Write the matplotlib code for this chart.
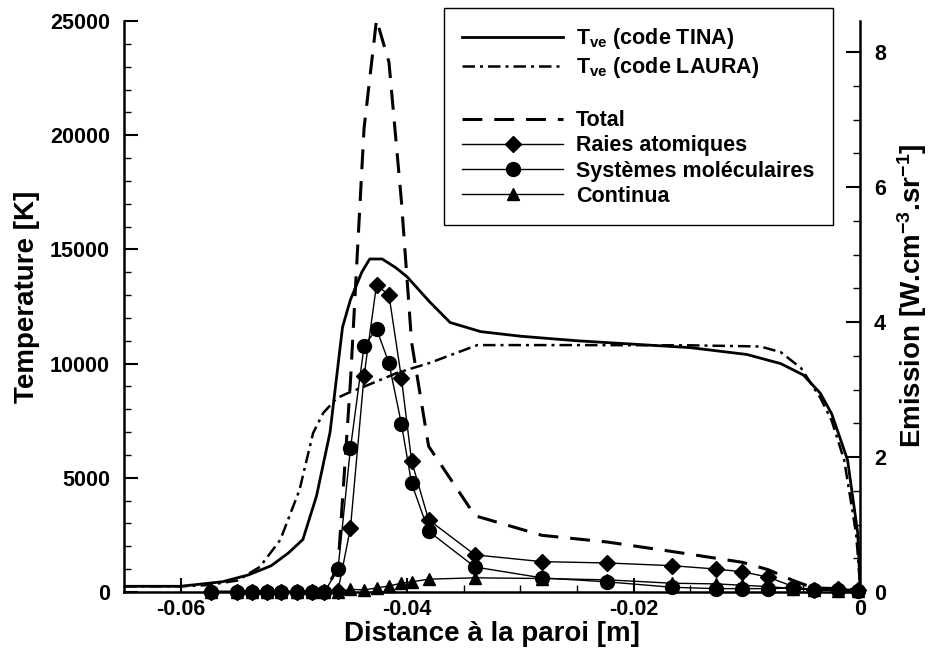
import numpy as np
import matplotlib.pyplot as plt
from matplotlib.lines import Line2D
from matplotlib.ticker import MultipleLocator, FuncFormatter

plt.rcParams['font.family'] = ['Liberation Sans', 'DejaVu Sans']
plt.rcParams['font.weight'] = 'bold'
plt.rcParams['axes.labelweight'] = 'bold'
plt.rcParams['mathtext.fontset'] = 'custom'
plt.rcParams['mathtext.rm'] = 'Liberation Sans:bold'
plt.rcParams['mathtext.it'] = 'Liberation Sans:bold'
plt.rcParams['mathtext.bf'] = 'Liberation Sans:bold'
plt.rcParams['axes.unicode_minus'] = False

# temperature profiles [K]
x_tina = [-0.065, -0.060, -0.0563, -0.0540, -0.0520, -0.0505, -0.0492, -0.0480,
          -0.0468, -0.0457, -0.0450, -0.0440, -0.0433, -0.0422, -0.0410, -0.0400,
          -0.0380, -0.0362, -0.0335, -0.030, -0.025, -0.020, -0.015, -0.010,
          -0.007, -0.005, -0.0035, -0.0025, -0.0017, -0.0011, -0.0002, 0.0]
t_tina = [250, 250, 450, 750, 1150, 1700, 2300, 4200,
          7000, 11600, 12800, 14000, 14580, 14580, 14200, 13800,
          12700, 11800, 11400, 11200, 11000, 10850, 10700, 10400,
          10000, 9500, 8700, 7800, 6650, 5780, 2580, 300]

x_laura = [-0.065, -0.060, -0.0577, -0.0550, -0.0530, -0.0512, -0.0495, -0.0483,
           -0.0474, -0.0462, -0.0450, -0.0439, -0.0409, -0.0380, -0.0338, -0.025,
           -0.015, -0.0088, -0.0070, -0.0052, -0.0035, -0.0025, -0.0014, -0.00035,
           -0.00018, 0.0]
t_laura = [250, 250, 300, 500, 1100, 2280, 4470, 6960,
           7840, 8490, 8760, 8970, 9590, 10030, 10810, 10810,
           10800, 10750, 10500, 9800, 8500, 7500, 5780, 2580,
           1530, 300]

# emission [W.cm-3.sr-1]
x_em = [-0.0573, -0.0550, -0.0537, -0.0524, -0.0511, -0.0497, -0.0484, -0.0473,
        -0.0461, -0.0450, -0.0438, -0.0427, -0.0416, -0.0405, -0.0396, -0.0381,
        -0.0340, -0.0281, -0.0223, -0.0166, -0.0127, -0.0104, -0.0081, -0.0059,
        -0.0041, -0.0019, -0.0002]
raies = [0, 0, 0, 0, 0, 0, 0, 0,
         0.02, 0.95, 3.20, 4.55, 4.40, 3.17, 1.94, 1.07,
         0.55, 0.45, 0.43, 0.39, 0.34, 0.30, 0.22, 0.08,
         0.03, 0.05, 0.03]
systemes = [0, 0, 0, 0, 0, 0, 0, 0,
            0.34, 2.13, 3.64, 3.90, 3.39, 2.49, 1.61, 0.90,
            0.37, 0.21, 0.15, 0.07, 0.05, 0.05, 0.05, 0.06,
            0.03, 0.03, 0.02]
continua = [0, 0, 0, 0, 0, 0, 0, 0,
            0.0, 0.04, 0.03, 0.06, 0.09, 0.13, 0.15, 0.19,
            0.21, 0.20, 0.18, 0.13, 0.12, 0.10, 0.08, 0.05,
            0.03, 0.02, 0.01]
total = [0, 0, 0, 0, 0, 0, 0, 0,
         0.37, 3.12, 6.87, 8.48, 7.85, 5.79, 3.70, 2.16,
         1.13, 0.84, 0.74, 0.60, 0.50, 0.44, 0.33, 0.17,
         0.06, 0.05, 0.03]

fig = plt.figure(figsize=(9.45, 6.51), dpi=100)
ax = fig.add_axes([124 / 945, 59 / 651, 736 / 945, 571 / 651])
ax2 = ax.twinx()

h_tina, = ax.plot(x_tina, t_tina, color='k', lw=2.0)
h_laura, = ax.plot(x_laura, t_laura, color='k', lw=1.8, dashes=(5, 2, 1.2, 2))

h_total, = ax2.plot(x_em, total, color='k', lw=2.2, dashes=(6.5, 3.9))
h_raies, = ax2.plot(x_em, raies, color='k', lw=1, marker='D', ms=8, clip_on=False)
h_sys, = ax2.plot(x_em, systemes, color='k', lw=1, marker='o', ms=10, clip_on=False)
h_cont, = ax2.plot(x_em, continua, color='k', lw=1, marker='^', ms=8, clip_on=False)

ax.set_xlim(-0.065, 0)
ax.set_ylim(0, 25000)
ax2.set_ylim(0, 8.46)

ax.xaxis.set_major_locator(MultipleLocator(0.02))
ax.xaxis.set_minor_locator(MultipleLocator(0.005))
ax.xaxis.set_major_formatter(FuncFormatter(lambda v, p: '0' if abs(v) < 1e-9 else '%.2f' % v))
ax.yaxis.set_major_locator(MultipleLocator(5000))
ax.yaxis.set_minor_locator(MultipleLocator(1000))
ax2.yaxis.set_major_locator(MultipleLocator(2))
ax2.yaxis.set_minor_locator(MultipleLocator(0.5))

for a in (ax, ax2):
    a.spines['top'].set_visible(False)
    for s in a.spines.values():
        s.set_linewidth(1.8)
ax.spines['right'].set_visible(False)
ax2.spines['left'].set_visible(False)
ax2.spines['bottom'].set_visible(False)

ax.tick_params(which='both', direction='in', top=False, right=False, width=1.5, labelsize=15.5)
ax.tick_params(which='major', length=10)
ax.tick_params(which='minor', length=5, width=1)
ax.tick_params(axis='y', pad=10)
ax.tick_params(axis='x', pad=5)
ax2.tick_params(which='both', direction='in', width=1.5, labelsize=15.5, pad=10)
ax2.tick_params(which='major', length=10)
ax2.tick_params(which='minor', length=5, width=1)

ax.set_xlabel('Distance à la paroi [m]', fontsize=20)
ax.xaxis.set_label_coords(0.5, -0.05)
ax.set_ylabel('Temperature [K]', fontsize=20)
ax.yaxis.set_label_coords(-0.114, 0.517)
ax2.set_ylabel('Emission [W.cm$^{-3}$.sr$^{-1}$]', fontsize=20)
ax2.yaxis.set_label_coords(1.048, 0.518)

blank = Line2D([], [], color='none')
handles = [h_tina, h_laura, blank, h_total, h_raies, h_sys, h_cont]
labels = ['T$_{ve}$ (code TINA)', 'T$_{ve}$ (code LAURA)', ' ', 'Total',
          'Raies atomiques', 'Systèmes moléculaires', 'Continua']
leg = ax2.legend(handles, labels, loc='upper right', bbox_to_anchor=(0.963, 1.023),
                 fontsize=15.5, fancybox=False, edgecolor='k', framealpha=1,
                 handlelength=4.7, handletextpad=0.6, labelspacing=0.2,
                 borderaxespad=0, borderpad=0.85, numpoints=1)
leg.get_frame().set_linewidth(1.0)

fig.savefig('out.png', dpi=100)
